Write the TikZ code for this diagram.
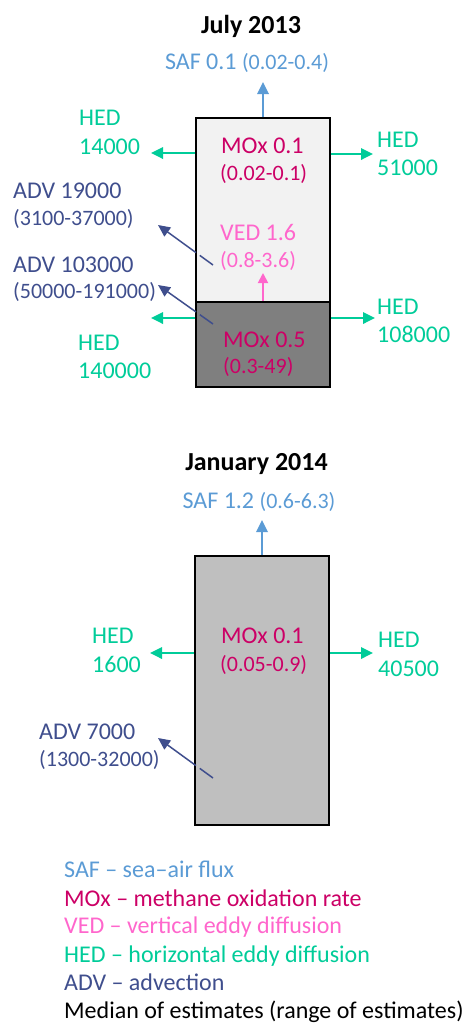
\documentclass[tikz,border=0pt]{standalone}
\usepackage{fontspec}
\setmainfont{Carlito}
\usetikzlibrary{arrows.meta,calc}
\definecolor{safc}{HTML}{5B9BD5}
\definecolor{moxc}{HTML}{CC0066}
\definecolor{vedc}{HTML}{FF66CC}
\definecolor{hedc}{HTML}{00CC99}
\definecolor{advc}{HTML}{3F4E8D}
\definecolor{fillA}{HTML}{F2F2F2}
\definecolor{fillB}{HTML}{7F7F7F}
\definecolor{fillC}{HTML}{BFBFBF}
\newcommand{\smallsz}{\fontsize{22}{26}\selectfont}
\begin{document}
\begin{tikzpicture}[x=1pt,y=-1pt,
  big/.style={font=\fontsize{24}{28}\selectfont, inner sep=0pt, anchor=base west},
  small/.style={font=\smallsz, inner sep=0pt, anchor=base west},
  ttl/.style={font=\fontsize{26}{30}\selectfont\bfseries, inner sep=0pt, anchor=base},
  boxst/.style={draw=black, line width=2pt, inner sep=0pt, minimum width=134pt},
  flow/.style={line width=1.8pt, -{Triangle[length=12pt,width=11.5pt]}},
  safar/.style={flow, draw=safc, fill=safc},
  hedar/.style={flow, draw=hedc, fill=hedc},
  vedar/.style={flow, draw=vedc, fill=vedc, -{Triangle[length=10pt,width=10pt]}},
  advar/.style={line width=1.5pt, draw=advc, fill=advc, -{Triangle[length=12pt,width=11pt]}},
  advseg/.style={line width=1.5pt, draw=advc}
]
\useasboundingbox (0,0) rectangle (467,1023);
% ---------- July 2013 ----------
\node[ttl] (t1) at (251,33) {July 2013};
\node[big, safc, anchor=base] (saf1) at (247,69) {SAF 0.1 {\smallsz(0.02-0.4)}};
\node[boxst, fill=fillA, minimum height=184pt] (b1t) at (263,210) {};
\node[boxst, fill=fillB, minimum height=85pt] (b1b) at (263,344.5) {};

\coordinate (saf1e) at (263,82);
\draw[safar] (b1t.north) -- (saf1e);
\coordinate (h1le) at (151,153);
\draw[hedar] (b1t.west |- h1le) -- (h1le);
\coordinate (h1re) at (373,154);
\draw[hedar] (b1t.east |- h1re) -- (h1re);
\coordinate (h2le) at (151,318);
\draw[hedar] (b1b.west |- h2le) -- (h2le);
\coordinate (h2re) at (375,318);
\draw[hedar] (b1b.east |- h2re) -- (h2re);
\coordinate (vede) at (263,273);
\draw[vedar] (b1b.north) -- (vede);
\coordinate (a1s) at (213,265);
\coordinate (a1e) at (158,225);
\draw[advseg] (a1s) -- ($(a1s)!0.24!(a1e)$);
\draw[advar] ($(a1s)!0.31!(a1e)$) -- (a1e);
\coordinate (a2s) at (213,324);
\coordinate (a2e) at (158,285);
\draw[advseg] (a2s) -- ($(a2s)!0.24!(a2e)$);
\draw[advar] ($(a2s)!0.31!(a2e)$) -- (a2e);

\node[big, hedc] (h1l1) at (79,125) {HED};
\node[big, hedc] (h1l2) at (79,154) {14000};
\node[big, moxc] (m1a) at (221,153) {MOx 0.1};
\node[small, moxc] (m1b) at (220,180) {(0.02-0.1)};
\node[big, hedc] (h1r1) at (377,147) {HED};
\node[big, hedc] (h1r2) at (377,175) {51000};
\node[big, advc] (a1a) at (13,198) {ADV 19000};
\node[small, advc] (a1b) at (13,225) {(3100-37000)};
\node[big, vedc] (v1a) at (220,240) {VED 1.6};
\node[small, vedc] (v1b) at (220,267) {(0.8-3.6)};
\node[big, advc] (a2a) at (13,272) {ADV 103000};
\node[small, advc] (a2b) at (13,298) {(50000-191000)};
\node[big, hedc] (h2l1) at (78,350) {HED};
\node[big, hedc] (h2l2) at (78,378) {140000};
\node[big, moxc] (m2a) at (223,347) {MOx 0.5};
\node[small, moxc] (m2b) at (223,373) {(0.3-49)};
\node[big, hedc] (h2r1) at (377,314) {HED};
\node[big, hedc] (h2r2) at (377,342) {108000};

% ---------- January 2014 ----------
\node[ttl] (t2) at (256.5,470) {January 2014};
\node[big, safc, anchor=base] (saf2) at (259,508) {SAF 1.2 {\smallsz(0.6-6.3)}};
\node[boxst, fill=fillC, minimum height=269pt] (b2) at (262,690.5) {};
\coordinate (saf2e) at (262,520);
\draw[safar] (b2.north) -- (saf2e);
\coordinate (h3le) at (150,653);
\draw[hedar] (b2.west |- h3le) -- (h3le);
\coordinate (h3re) at (373,653);
\draw[hedar] (b2.east |- h3re) -- (h3re);
\coordinate (a3s) at (213,778);
\coordinate (a3e) at (158,738);
\draw[advseg] (a3s) -- ($(a3s)!0.24!(a3e)$);
\draw[advar] ($(a3s)!0.31!(a3e)$) -- (a3e);

\node[big, hedc] (h3l1) at (92,643) {HED};
\node[big, hedc] (h3l2) at (92,672) {1600};
\node[big, moxc] (m3a) at (221,643) {MOx 0.1};
\node[small, moxc] (m3b) at (220,671) {(0.05-0.9)};
\node[big, hedc] (h3r1) at (378,647) {HED};
\node[big, hedc] (h3r2) at (378,676) {40500};
\node[big, advc] (a3a) at (39,739) {ADV 7000};
\node[small, advc] (a3b) at (39,766) {(1300-32000)};

% ---------- legend ----------
\node[big, safc] (l1) at (64,877) {SAF – sea–air flux};
\node[big, moxc] (l2) at (64,906) {MOx – methane oxidation rate};
\node[big, vedc] (l3) at (64,933) {VED – vertical eddy diffusion};
\node[big, hedc] (l4) at (64,962) {HED – horizontal eddy diffusion};
\node[big, advc] (l5) at (64,990) {ADV – advection};
\node[big, black] (l6) at (64,1018) {Median of estimates (range of estimates)};
\end{tikzpicture}
\end{document}
